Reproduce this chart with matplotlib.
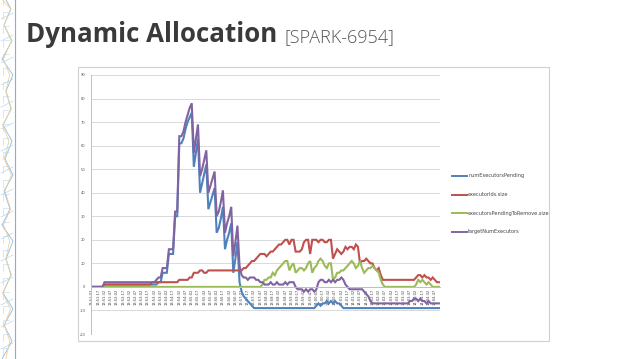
import matplotlib
matplotlib.use("Agg")
import matplotlib.pyplot as plt
from matplotlib.lines import Line2D
from matplotlib.patches import Rectangle

# ---------------- data ----------------
series_names = ["numExecutorsPending", "executorIds.size",
                "executorsPendingToRemove.size", "targetNumExecutors"]
series_colors = ["#4F81BD", "#C0504D", "#9BBB59", "#8064A2"]

num_executors_pending = (
    [0, 0, 0, 0, 0, 0, 1, 1, 1, 1, 1, 1, 1, 1, 1, 1, 1, 1, 1, 1,
     1, 1, 1, 1, 1, 1, 1, 1, 1, 1, 1, 1, 2, 2, 6, 6, 6, 14, 14, 14,
     30, 30, 61, 61, 63, 67, 70, 72, 74, 51, 57, 63, 40, 44, 48, 52, 33, 36, 39, 42,
     23, 25, 29, 34, 16, 20, 23, 27, 6, 12, 19, 2, -2, -4, -5, -6, -7, -8, -9, -9,
     -9, -9, -9, -9, -9, -9, -9, -9, -9, -9, -9, -9, -9, -9, -9, -9, -9, -9, -9, -9,
     -9, -9, -9, -9, -9, -9, -9, -9, -8, -7, -8, -7, -7, -6, -7, -6, -7, -6, -7, -7,
     -8, -9, -9, -9, -9, -9, -9, -9, -9, -9, -9, -9, -9, -9, -9, -9, -9, -9, -9, -9,
     -9, -9, -9, -9, -9, -9, -9, -9, -9, -9, -9, -9, -9, -9, -9, -9, -9, -9, -9, -9,
     -9, -9, -9, -9, -9, -9, -9, -9]
)
executor_ids_size = (
    [0, 0, 0, 0, 0, 0, 1, 1, 1, 1, 1, 1, 1, 1, 1, 1, 1, 1, 1, 1,
     1, 1, 1, 1, 1, 1, 1, 1, 1, 2, 2, 2, 2, 2, 2, 2, 2, 2, 2, 2,
     2, 2, 3, 3, 3, 3, 3, 4, 4, 6, 6, 6, 7, 7, 6, 6, 7, 7, 7, 7,
     7, 7, 7, 7, 7, 7, 7, 7, 7, 7, 7, 7, 7, 8, 8, 9, 10, 11, 11, 12,
     13, 14, 14, 14, 13, 14, 15, 15, 16, 17, 18, 18, 19, 20, 20, 18, 20, 20, 15, 15,
     15, 16, 19, 20, 20, 14, 20, 20, 20, 19, 20, 20, 19, 19, 20, 20, 12, 14, 16, 15,
     14, 15, 17, 16, 17, 17, 16, 18, 17, 10, 11, 11, 12, 11, 10, 10, 8, 7, 8, 5,
     3, 3, 3, 3, 3, 3, 3, 3, 3, 3, 3, 3, 3, 3, 3, 3, 4, 5, 5, 4,
     5, 4, 4, 3, 4, 3, 2, 2]
)
executors_pending_to_remove = (
    [0, 0, 0, 0, 0, 0, 0, 0, 0, 0, 0, 0, 0, 0, 0, 0, 0, 0, 0, 0,
     0, 0, 0, 0, 0, 0, 0, 0, 0, 0, 0, 0, 0, 0, 0, 0, 0, 0, 0, 0,
     0, 0, 0, 0, 0, 0, 0, 0, 0, 0, 0, 0, 0, 0, 0, 0, 0, 0, 0, 0,
     0, 0, 0, 0, 0, 0, 0, 0, 0, 0, 0, 0, 0, 0, 0, 0, 0, 0, 0, 0,
     0, 0, 1, 3, 3, 4, 4, 6, 5, 7, 8, 9, 10, 11, 11, 7, 9, 10, 6, 7,
     8, 8, 7, 8, 10, 11, 6, 8, 9, 11, 12, 11, 9, 8, 10, 10, 3, 4, 6, 6,
     7, 7, 8, 9, 10, 11, 10, 8, 9, 11, 8, 6, 7, 8, 8, 9, 8, 7, 6, 3,
     1, 0, 0, 0, 0, 0, 0, 0, 0, 0, 0, 0, 0, 0, 0, 0, 1, 3, 2, 3,
     2, 1, 2, 1, 0, 0, 0, 0]
)
target_num_executors = (
    [0, 0, 0, 0, 0, 0, 2, 2, 2, 2, 2, 2, 2, 2, 2, 2, 2, 2, 2, 2,
     2, 2, 2, 2, 2, 2, 2, 2, 2, 2, 2, 3, 4, 4, 8, 8, 8, 16, 16, 16,
     32, 32, 64, 64, 66, 70, 73, 76, 78, 57, 63, 69, 47, 50, 54, 58, 40, 43, 46, 49,
     30, 32, 36, 41, 23, 27, 30, 34, 13, 19, 26, 9, 5, 4, 4, 3, 4, 4, 4, 3,
     3, 2, 2, 1, 1, 1, 2, 1, 1, 2, 1, 1, 1, 2, 1, 2, 2, 2, 0, -1,
     -1, -1, -2, -1, -2, -1, -1, -2, -1, 2, 3, 3, 2, 2, 3, 2, 3, 2, 3, 3,
     4, 3, 1, 0, -1, -1, -1, -1, -1, -1, -1, -2, -3, -4, -6, -7, -7, -7, -7, -7,
     -7, -7, -7, -7, -7, -7, -7, -7, -7, -7, -7, -7, -7, -6, -6, -5, -5, -6, -5, -6,
     -6, -7, -6, -7, -7, -7, -7, -7]
)

category_labels = [
    "13:51:02", "13:51:17", "13:51:32", "13:51:47", "13:52:02", "13:52:17", "13:52:32",
    "13:52:47", "13:53:02", "13:53:17", "13:53:32", "13:53:47", "13:54:02", "13:54:17",
    "13:54:32", "13:54:47", "13:55:02", "13:55:17", "13:55:32", "13:55:47", "13:56:02",
    "13:56:17", "13:56:32", "13:56:47", "13:57:02", "13:57:17", "13:57:32", "13:57:47",
    "13:58:02", "13:58:17", "13:58:32", "13:58:47", "13:59:02", "13:59:17", "13:59:32",
    "13:59:47", "14:00:02", "14:00:17", "14:00:32", "14:00:47", "14:01:02", "14:01:17",
    "14:01:32", "14:01:47", "14:02:02", "14:02:17", "14:02:32", "14:02:47", "14:03:02",
    "14:03:17", "14:03:32", "14:03:47", "14:04:02", "14:04:17", "14:04:32", "14:04:47",
]
label_every = 3

y_ticks = [-20, -10, 0, 10, 20, 30, 40, 50, 60, 70, 80, 90]

title_main = "Dynamic Allocation"
title_sub = "[SPARK-6954]"

# ---------------- figure ----------------
W, H = 638, 359
fig = plt.figure(figsize=(W / 100, H / 100), dpi=100)
fig.patch.set_facecolor("white")


def fx(px):
    return px / W


def fy(py):
    return 1 - py / H


# decorative stripe on the left
deco = fig.add_axes([0, 0, fx(17), 1])
deco.set_xlim(0, 17)
deco.set_ylim(0, H)
deco.axis("off")
deco.plot([14.5, 14.5], [0, H], color="#7fb2d6", lw=0.8)
zig_y = [0, 18, 34, 50, 66, 84, 100, 118, 134, 150, 168, 184, 200, 218, 234, 250,
         268, 284, 300, 318, 334, 350, 359]
zig_x = [2, 12, 4, 13, 3, 11, 6, 13, 2, 10, 4, 13, 5, 12, 3, 11, 6, 13, 2, 12, 4, 11, 6]
deco.plot(zig_x, zig_y, color="#8cbde0", lw=0.6)
deco.plot([x * 0.8 + 1 for x in zig_x[::-1]], zig_y, color="#f4cf97", lw=0.6)
for yy in range(10, H, 22):
    deco.plot([1, 13], [yy, yy + 6], color="#a9cde8", lw=0.4)
for yy in range(4, H, 14):
    deco.plot([3, 3, 9], [yy, yy + 7, yy + 7], color="#b8d6ec", lw=0.4)

# titles
fig.text(fx(26), fy(42), title_main, fontsize=18.6, fontweight="bold",
         family="Open Sans", color="#3a3a3a", va="baseline", ha="left")
fig.text(fx(285), fy(42), title_sub, fontsize=13, fontweight="light",
         family="Open Sans", color="#555555", va="baseline", ha="left")

# chart border
fig.patches.append(Rectangle((fx(78), fy(341)), fx(549) - fx(78), fy(67) - fy(341),
                             transform=fig.transFigure, fill=False,
                             edgecolor="#d0d0d0", lw=0.8))

ax = fig.add_axes([fx(91), fy(334), fx(440) - fx(91), fy(75) - fy(334)])
n = len(target_num_executors)
xs = list(range(n))
series = [num_executors_pending, executor_ids_size,
          executors_pending_to_remove, target_num_executors]
for vals, col in zip(series, series_colors):
    ax.plot(xs, vals, color=col, lw=1.5, solid_joinstyle="miter")

ax.set_xlim(-0.5, n - 0.5)
ax.set_ylim(-20, 90)
ax.set_yticks(y_ticks)
ax.set_yticklabels([str(v) for v in y_ticks], fontsize=2.6, color="#555555")
ax.yaxis.grid(True, color="#d9d9d9", lw=0.7)
ax.set_axisbelow(True)
for s in ["top", "right"]:
    ax.spines[s].set_visible(False)
ax.spines["left"].set_color("#bfbfbf")
ax.spines["left"].set_linewidth(0.7)
ax.spines["bottom"].set_position(("data", 0))
ax.spines["bottom"].set_color("#bfbfbf")
ax.spines["bottom"].set_linewidth(0.7)
ax.tick_params(axis="y", length=0, pad=4)
ax.set_xticks(xs[::label_every])
ax.set_xticklabels(category_labels, rotation=90, fontsize=2.6, color="#444444")
ax.tick_params(axis="x", length=0, pad=1.5)

# legend
leg_y = [176, 195, 213, 232]
for name, col, ly in zip(series_names, series_colors, leg_y):
    fig.lines.append(Line2D([fx(452), fx(467)], [fy(ly), fy(ly)],
                            transform=fig.transFigure, color=col, lw=1.4))
    fig.text(fx(468), fy(ly), name, fontsize=3.6, color="#444444",
             va="center", ha="left")

fig.savefig("out.png", dpi=100, facecolor="white")
